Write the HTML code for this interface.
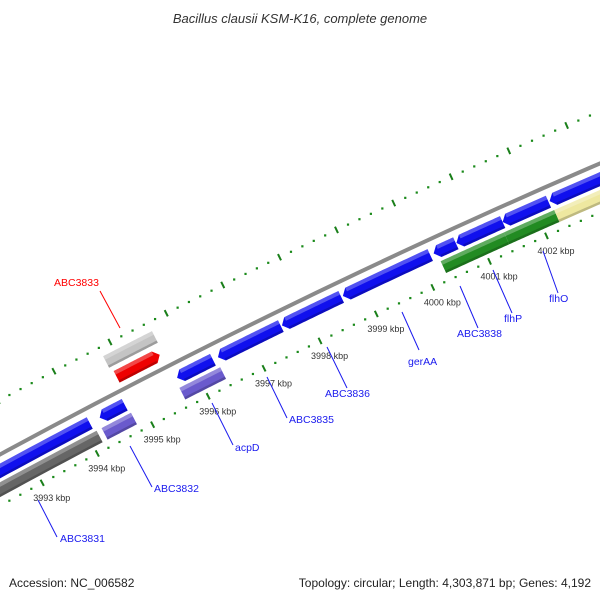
<!DOCTYPE html>
<html><head><meta charset="utf-8"><style>
html,body{margin:0;padding:0;background:#fff}
svg{display:block}
text{font-family:"Liberation Sans",sans-serif}
</style></head><body>
<svg id="map" width="600" height="600" viewBox="0 0 600 600" xmlns="http://www.w3.org/2000/svg">
<rect width="600" height="600" fill="#fff"/>
<text x="300" y="23" text-anchor="middle" font-size="13" font-style="italic" fill="#333">Bacillus clausii KSM-K16, complete genome</text>
<g id="ticks"></g>
<g id="backbone"></g>
<g id="features"></g>
<g id="tlabels"></g>
<g id="glabels"></g>
<text x="9" y="587" font-size="12" fill="#222">Accession: NC_006582</text>
<text x="591" y="587" font-size="12" fill="#222" text-anchor="end">Topology: circular; Length: 4,303,871 bp; Genes: 4,192</text>
</svg>
<script>
const featStart=[3990,3994.30,3995.69,3996.42,3997.56,3998.64,4000.24,4000.64,4001.45,4002.27, 3990,3994.25,3995.65,4000.29,4001.40,4002.28, 3994.84, 3994.80];
const featEnd  =[3994.12,3994.75,3996.33,3997.54,3998.61,4000.18,4000.63,4001.45,4002.25,4005, 3994.16,3994.78,3996.38,4001.40,4002.28,4005, 3995.61, 3995.67];
const featRow  =[2,2,2,2,2,2,2,2,2,2, 3,3,3,3,3,3, 1, 0];
const featColor=["#1010ee","#1010ee","#1010ee","#1010ee","#1010ee","#1010ee","#1010ee","#1010ee","#1010ee","#1010ee",
 "#666666","#6a5acd","#6a5acd","#228b22","#228b22","#eee8a0","#ee0000","#c4c4c4"];
const featDir  =[0,-1,-1,-1,-1,-1,-1,-1,-1,-1, 0,0,0,0,0,0, 1,0];
const tickLabelKbp=[3993,3994,3995,3996,3997,3998,3999,4000,4001,4002];
const labelNames=["ABC3831","ABC3832","acpD","ABC3835","ABC3836","gerAA","ABC3838","flhP","flhO","ABC3833"];

const CX=3553, CY=7014, RB=7460;
const rowR=[32,14,-14.5,-31];
const HALF=6.5;
const NS="http://www.w3.org/2000/svg";
function P(k,r){const a=(-118.26+0.4822*(k-3993))*Math.PI/180;return [CX+r*Math.cos(a),CY+r*Math.sin(a)];}
function mk(tag,attrs,parent){const e=document.createElementNS(NS,tag);for(const a in attrs)e.setAttribute(a,attrs[a]);parent.appendChild(e);return e;}
function edge(k1,k2,r){const pts=[];const n=24;for(let i=0;i<=n;i++){pts.push(P(k1+(k2-k1)*i/n,r));}return pts;}
function ptsStr(p){return p.map(q=>q[0].toFixed(2)+","+q[1].toFixed(2)).join(" ");}

// ticks
const tg=document.getElementById('ticks');
for(let i=0;i<=80;i++){
  const k=3990+i*0.2; const major=Math.abs(k-Math.round(k))<1e-6;
  [RB-45,RB+48].forEach(r=>{
    if(major){const a=P(k,r-3.5),b=P(k,r+3.5);
      const l=mk('line',{x1:a[0],y1:a[1],x2:b[0],y2:b[1],stroke:'#1a7f1a','stroke-width':2},tg);
      
      
    }else{const c=P(k,r);
      const d=mk('rect',{x:c[0]-1,y:c[1]-1,width:2.2,height:2.2,fill:'#1a8a1a'},tg);
      
      
    }
  });
}
// backbone
const bg=document.getElementById('backbone');
const bb=mk('polyline',{points:ptsStr(edge(3988,4007,RB)),fill:'none',stroke:'#8a8a8a','stroke-width':4},bg);


// features
const fg=document.getElementById('features');
const head=0.09;
for(let i=0;i<featStart.length;i++){
  const k1=featStart[i],k2=featEnd[i],rc=RB+rowR[featRow[i]],r1=rc-HALF,r2=rc+HALF,dir=featDir[i];
  const bs=dir<0?k1+head:k1, be=dir>0?k2-head:k2;
  let pts=edge(bs,be,r2);
  if(dir>0)pts.push(P(k2,rc));
  pts=pts.concat(edge(be,bs,r1));
  if(dir<0)pts.push(P(k1,rc));
  const g=mk('g',{},fg);
  
  
  mk('polygon',{points:ptsStr(pts),fill:featColor[i]},g);
  const hi=edge(bs,be,r2).concat(edge(be,bs,r2-4));
  mk('polygon',{points:ptsStr(hi),fill:'#fff','fill-opacity':0.28},g);
  const lo=edge(bs,be,r1+2.5).concat(edge(be,bs,r1));
  mk('polygon',{points:ptsStr(lo),fill:'#000','fill-opacity':0.2},g);
}
// tick labels
const lg=document.getElementById('tlabels');
tickLabelKbp.forEach(k=>{const p=P(k,RB-45);
  const t=mk('text',{x:p[0]-9,y:p[1]+18,'font-size':9,fill:'#333'},lg);
  t.textContent=k+" kbp";
  
  
});
// gene labels
const lines=[[38,500,57,537,60,542],[130,446,152,487,154,492],[212,403,233,445,235,451],[267,377,287,418,289,423],
 [327,347,347,388,325,397],[402,312,419,350,408,365],[460,286,478,328,457,337],[493,270,512,313,504,322],[543,251,558,293,549,302],[120,328,100,291,54,286]];
const gg=document.getElementById('glabels');
lines.forEach((L,i)=>{const col=i==9?'#ff0000':'#1a1aee';
  const l=mk('line',{x1:L[0],y1:L[1],x2:L[2],y2:L[3],stroke:col,'stroke-width':1},gg);
  
  
  const t=mk('text',{x:L[4],y:L[5],'font-size':10.5,fill:col},gg);
  t.textContent=labelNames[i];
  
  
});
</script>
</body></html>
